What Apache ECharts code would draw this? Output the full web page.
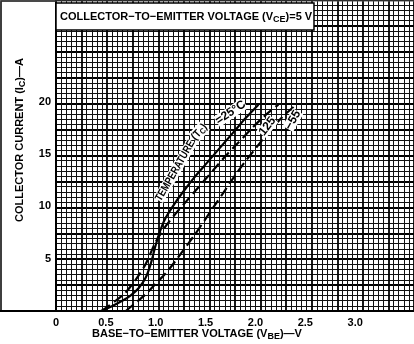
<!DOCTYPE html>
<html><head><meta charset="utf-8">
<script src="https://cdn.jsdelivr.net/npm/echarts@6/dist/echarts.min.js"></script>
<style>html,body{margin:0;padding:0;background:#fff}#c{width:414px;height:344px}</style>
</head><body><div id="c"></div>
<script>
// Tick labels
const xTicks = ['0', '0.5', '1.0', '1.5', '2.0', '2.5', '3.0'];
const yTicks = ['5', '10', '15', '20'];

// TC = 25 °C (solid)
const vbe25 = [0.45, 0.55, 0.65, 0.75, 0.83, 0.9, 0.95, 1.0, 1.05, 1.1, 1.2, 1.3, 1.4, 1.5, 1.6, 1.7, 1.8, 1.9, 2.03];
const ic25  = [0,    0.4,  0.9,  1.5,  2.2,  3.2, 4.5,  6.3, 7.8,  8.9, 10.4, 11.7, 12.9, 14.0, 15.1, 16.2, 17.3, 18.4, 19.7];

// TC = 125 °C (dashed)
const vbe125 = [0.46, 0.6, 0.7, 0.8, 0.9, 1.0, 1.1, 1.2, 1.3, 1.4, 1.5, 1.6, 1.7, 1.8, 1.9, 2.0, 2.1, 2.23];
const ic125  = [0,    1.0, 1.8, 3.0, 4.5, 6.6, 8.1, 9.3, 10.4, 11.5, 12.6, 13.7, 14.8, 15.8, 16.8, 17.8, 18.7, 19.7];

// TC = -55 °C (dashed)
const vbeM55 = [0.7, 0.8, 0.9, 1.0, 1.1, 1.2, 1.3, 1.4, 1.5, 1.6, 1.7, 1.8, 1.9, 2.0, 2.1, 2.2, 2.3, 2.41];
const icM55  = [0,   0.8, 1.6, 2.6, 3.6, 4.8, 6.1, 7.4, 8.8, 10.2, 11.6, 13.0, 14.3, 15.5, 16.7, 17.8, 18.8, 19.7];

const pair = (xs, ys) => xs.map((x, i) => [x, ys[i]]);

const FONT = 'Liberation Sans';
const chart = echarts.init(document.getElementById('c'), null, {renderer: 'canvas'});

const XMAX = 3.56, YMAX = 29.7;
const xFmt = v => { const i = Math.round(v * 2); return (Math.abs(v * 2 - i) < 1e-6 && i < xTicks.length) ? xTicks[i] : ''; };
const yFmt = v => { const r = Math.round(v); return (Math.abs(v - r) < 1e-6 && yTicks.includes(String(r))) ? String(r) : ''; };

const hidden = {axisLine: {show: false}, axisTick: {show: false}, axisLabel: {show: false}};
const paperMajor = {show: true, lineStyle: {color: '#000', width: 1.8}};
const paperMinor = {show: true, lineStyle: {color: '#111', width: 1}};
const deg = d => d * Math.PI / 180;

const option = {
  animation: false,
  backgroundColor: '#fff',
  grid: [
    // graph paper (bold squares of 5x5 small squares)
    {left: 56, top: -3, width: 361, height: 314},
    // data plot
    {left: 56, right: 0, top: 0, bottom: 33}
  ],
  xAxis: [
    Object.assign({type: 'value', gridIndex: 0, min: 0, max: 14, interval: 1,
      minorTick: {show: false, splitNumber: 5}, splitLine: paperMajor, minorSplitLine: paperMinor}, hidden),
    {type: 'value', gridIndex: 1, min: 0, max: XMAX, interval: 0.5, position: 'bottom',
      axisLine: {show: true, lineStyle: {color: '#000', width: 2}}, axisTick: {show: false}, splitLine: {show: false},
      axisLabel: {show: true, color: '#000', fontFamily: FONT, fontWeight: 'bold', fontSize: 11, margin: 6, formatter: xFmt}}
  ],
  yAxis: [
    Object.assign({type: 'value', gridIndex: 0, min: 0, max: 12, interval: 1,
      minorTick: {show: false, splitNumber: 5}, splitLine: paperMajor, minorSplitLine: paperMinor}, hidden),
    {type: 'value', gridIndex: 1, min: 0, max: YMAX, interval: 5, position: 'left',
      axisLine: {show: true, lineStyle: {color: '#000', width: 2}}, axisTick: {show: false}, splitLine: {show: false},
      axisLabel: {show: true, color: '#000', fontFamily: FONT, fontWeight: 'bold', fontSize: 11, margin: 5, formatter: yFmt}}
  ],
  series: [
    {type: 'line', xAxisIndex: 1, yAxisIndex: 1, data: pair(vbe25, ic25), smooth: 0.3, showSymbol: false,
      lineStyle: {color: '#000', width: 2.2}, z: 5},
    {type: 'line', xAxisIndex: 1, yAxisIndex: 1, data: pair(vbe125, ic125), smooth: 0.3, showSymbol: false,
      lineStyle: {color: '#000', width: 2.2, type: [10, 5]}, z: 5},
    {type: 'line', xAxisIndex: 1, yAxisIndex: 1, data: pair(vbeM55, icM55), smooth: 0.3, showSymbol: false,
      lineStyle: {color: '#000', width: 2.2, type: [10, 5]}, z: 5}
  ],
  graphic: [
    {type: 'rect', z: 100, shape: {x: 1, y: 1, width: 55, height: 310}, style: {fill: 'none', stroke: '#000', lineWidth: 1.5}},
    {type: 'line', z: 101, shape: {x1: 0, y1: 311, x2: 57, y2: 311}, style: {stroke: '#000', lineWidth: 2}},
    {type: 'line', z: 101, shape: {x1: 0, y1: 1, x2: 414, y2: 1}, style: {stroke: '#555', lineWidth: 1}},
    {type: 'rect', z: 100, shape: {x: 56, y: 3, width: 258, height: 27}, style: {fill: '#fff', stroke: '#000', lineWidth: 1.5}},
    {type: 'text', z: 102, x: 60, y: 17, style: {
      text: 'COLLECTOR−TO−EMITTER VOLTAGE (V{s|CE})=5 V', fill: '#000', font: 'bold 11px ' + FONT,
      verticalAlign: 'middle', align: 'left',
      rich: {s: {fontSize: 9, fontWeight: 'bold', fontFamily: FONT, padding: [6, 0, 0, 0], fill: '#000'}}}},
    {type: 'text', z: 102, x: 20, y: 140, rotation: Math.PI / 2, style: {
      text: 'COLLECTOR CURRENT (I{s|C})—A', fill: '#000', font: 'bold 11px ' + FONT,
      align: 'center', verticalAlign: 'middle',
      rich: {s: {fontSize: 9, fontWeight: 'bold', fontFamily: FONT, padding: [6, 0, 0, 0], fill: '#000'}}}},
    {type: 'text', z: 102, x: 197, y: 334, style: {
      text: 'BASE−TO−EMITTER VOLTAGE (V{s|BE})—V', fill: '#000', font: 'bold 11px ' + FONT,
      align: 'center', verticalAlign: 'middle',
      rich: {s: {fontSize: 9, fontWeight: 'bold', fontFamily: FONT, padding: [6, 0, 0, 0], fill: '#000'}}}},
    // curve labels
    {type: 'text', z: 102, x: 163, y: 203, rotation: deg(60), scaleX: 0.82, style: {
      text: 'TEMPERATURE', fill: '#000', font: 'bold 11px ' + FONT, align: 'left', verticalAlign: 'bottom',
      backgroundColor: '#fff'}},
    {type: 'text', z: 102, x: 198, y: 143, rotation: deg(48), scaleX: 0.9, style: {
      text: '(T{s|C})', fill: '#000', font: 'bold 11px ' + FONT, align: 'left', verticalAlign: 'bottom', backgroundColor: '#fff',
      rich: {s: {fontSize: 8, fontWeight: 'bold', fontFamily: FONT, padding: [5, 0, 0, 0], fill: '#000'}}}},
    {type: 'text', z: 102, x: 220, y: 127, rotation: deg(34), style: {
      text: '=25°C', fill: '#000', font: 'bold 12px ' + FONT, align: 'left', verticalAlign: 'bottom', backgroundColor: '#fff'}},
    {type: 'text', z: 102, x: 266, y: 138, rotation: deg(52), style: {
      text: '125', fill: '#000', font: 'bold 12px ' + FONT, align: 'left', verticalAlign: 'bottom', backgroundColor: '#fff'}},
    {type: 'text', z: 102, x: 293, y: 132, rotation: deg(60), style: {
      text: '−55', fill: '#000', font: 'bold 12px ' + FONT, align: 'left', verticalAlign: 'bottom', backgroundColor: '#fff'}}
  ]
};
chart.setOption(option);
</script>
</body></html>
